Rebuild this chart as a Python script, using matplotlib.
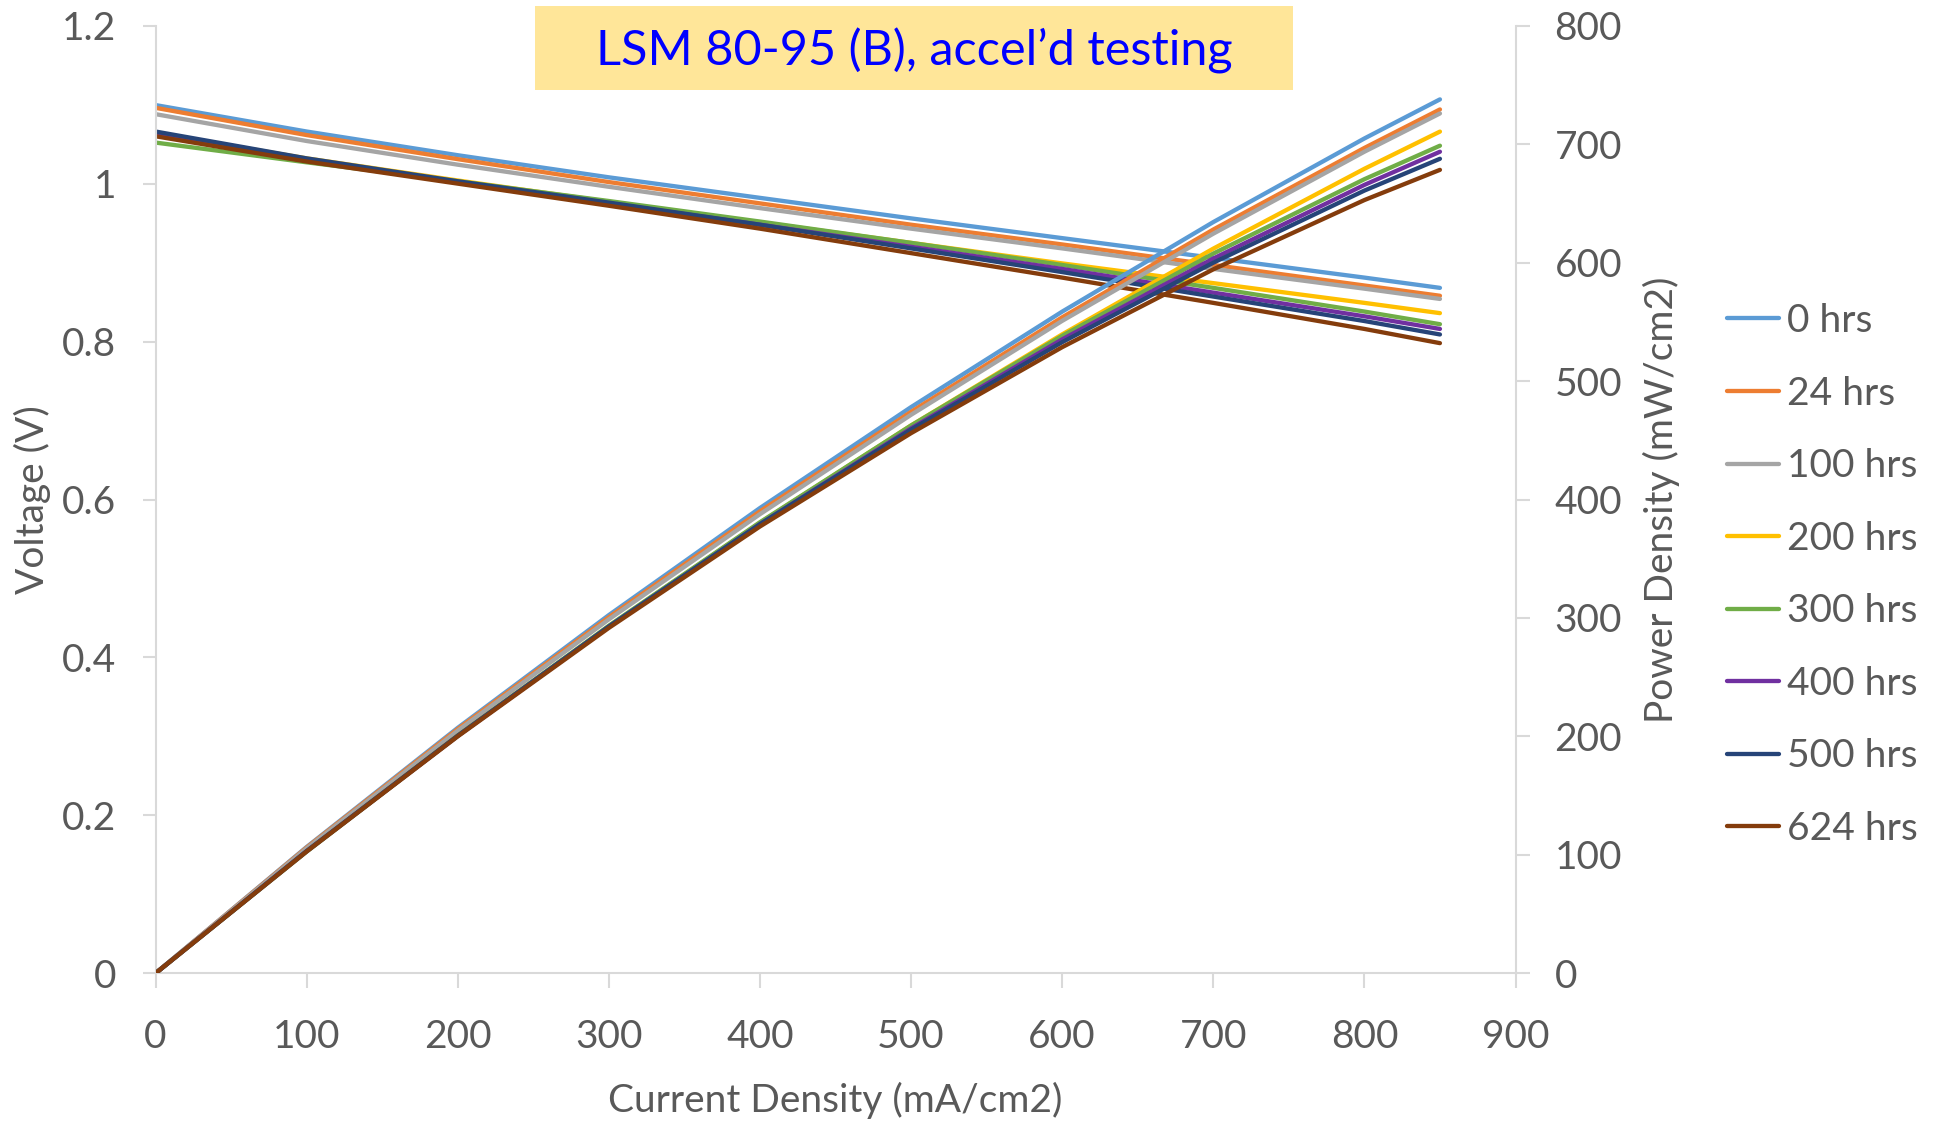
import matplotlib
matplotlib.use("Agg")
import matplotlib.pyplot as plt
import numpy as np

plt.rcParams['font.family'] = ['Lato', 'DejaVu Sans']

# Current density sample points (mA/cm2)
current = [0, 100, 200, 300, 400, 500, 600, 700, 800, 850]

# Cell voltage (V) after each test duration
v_0h   = [1.0995, 1.066, 1.036, 1.008, 0.982, 0.956, 0.931, 0.906, 0.881, 0.868]
v_24h  = [1.096, 1.0615, 1.031, 1.002, 0.975, 0.948, 0.923, 0.897, 0.871, 0.858]
v_100h = [1.088, 1.054, 1.024, 0.996, 0.969, 0.943, 0.918, 0.892, 0.867, 0.854]
v_200h = [1.064, 1.032, 1.004, 0.977, 0.951, 0.925, 0.899, 0.874, 0.849, 0.836]
v_300h = [1.052, 1.027, 1.003, 0.978, 0.952, 0.925, 0.897, 0.868, 0.838, 0.822]
v_400h = [1.064, 1.031, 1.002, 0.975, 0.948, 0.920, 0.892, 0.862, 0.832, 0.816]
v_500h = [1.066, 1.032, 1.003, 0.976, 0.948, 0.918, 0.888, 0.857, 0.826, 0.809]
v_624h = [1.060, 1.028, 1.000, 0.972, 0.943, 0.912, 0.881, 0.849, 0.816, 0.798]

labels = ["0 hrs", "24 hrs", "100 hrs", "200 hrs", "300 hrs",
          "400 hrs", "500 hrs", "624 hrs"]
colors = ["#5B9BD5", "#ED7D31", "#A5A5A5", "#FFC000", "#70AD47",
          "#7030A0", "#264478", "#843C0C"]
voltages = [v_0h, v_24h, v_100h, v_200h, v_300h, v_400h, v_500h, v_624h]

x_ticks = [0, 100, 200, 300, 400, 500, 600, 700, 800, 900]
v_ticks = [0, 0.2, 0.4, 0.6, 0.8, 1.0, 1.2]
v_ticklabels = ["0", "0.2", "0.4", "0.6", "0.8", "1", "1.2"]
p_ticks = [0, 100, 200, 300, 400, 500, 600, 700, 800]

W, H = 1934, 1121
fig = plt.figure(figsize=(W / 100, H / 100), dpi=100)
left, right, top, bottom = 155.5, 1515.5, 25.7, 973.3
ax = fig.add_axes([left / W, 1 - bottom / H, (right - left) / W, (bottom - top) / H])
ax2 = ax.twinx()

grey_line = "#D9D9D9"
text_col = "#595959"
lw = 3.1

cur = np.array(current, dtype=float)
handles = []
for v, lab, c in zip(voltages, labels, colors):
    h, = ax.plot(cur, v, color=c, lw=lw, label=lab, solid_capstyle='round')
    handles.append(h)
# Power density = current density x voltage
for v, c in zip(voltages, colors):
    ax2.plot(cur, cur * np.array(v), color=c, lw=lw, solid_capstyle='round')

ax.set_xlim(0, 900)
ax.set_ylim(0, 1.2)
ax2.set_ylim(0, 800)
ax.set_xticks(x_ticks)
ax.set_yticks(v_ticks)
ax.set_yticklabels(v_ticklabels)
ax2.set_yticks(p_ticks)

for a in (ax, ax2):
    for s in a.spines.values():
        s.set_visible(False)
ax.spines['left'].set_visible(True)
ax.spines['bottom'].set_visible(True)
ax2.spines['right'].set_visible(True)
for s in (ax.spines['left'], ax.spines['bottom'], ax2.spines['right']):
    s.set_color(grey_line)
    s.set_linewidth(1.5)

ax.tick_params(axis='x', direction='out', length=11, width=1.5, color=grey_line,
               labelsize=28, labelcolor=text_col, pad=22)
ax.tick_params(axis='y', direction='out', length=9.5, width=1.5, color=grey_line,
               labelsize=28, labelcolor=text_col, pad=19)
ax2.tick_params(axis='y', direction='out', length=10, width=1.5, color=grey_line,
                labelsize=28, labelcolor=text_col, pad=18)

ax.set_xlabel("Current Density (mA/cm2)", fontsize=28, color=text_col)
ax.xaxis.set_label_coords(0.5, -0.1147)
ax.set_ylabel("Voltage (V)", fontsize=28, color=text_col)
ax.yaxis.set_label_coords(-0.0768, 0.5)
ax2.set_ylabel("Power Density (mW/cm2)", fontsize=28, color=text_col)
ax2.yaxis.set_label_coords(1.0935, 0.5)

# Title banner
fig.patches.append(matplotlib.patches.Rectangle(
    (535 / W, 1 - 90 / H), (1293 - 535) / W, (90 - 6) / H,
    transform=fig.transFigure, facecolor="#FFE699", edgecolor='none', zorder=0))
fig.text(914 / W, 1 - 51 / H, "LSM 80-95 (B), accel\u2019d testing",
         fontsize=35, color="#0000FF", ha='center', va='center')

leg = fig.legend(handles=handles, loc='upper left',
                 bbox_to_anchor=(1727 / W, 1 - 303 / H), frameon=False,
                 fontsize=28, handlelength=1.34, handletextpad=0.2,
                 labelspacing=0.94, borderpad=0, borderaxespad=0)
for t in leg.get_texts():
    t.set_color(text_col)

fig.savefig("out.png", dpi=100)
